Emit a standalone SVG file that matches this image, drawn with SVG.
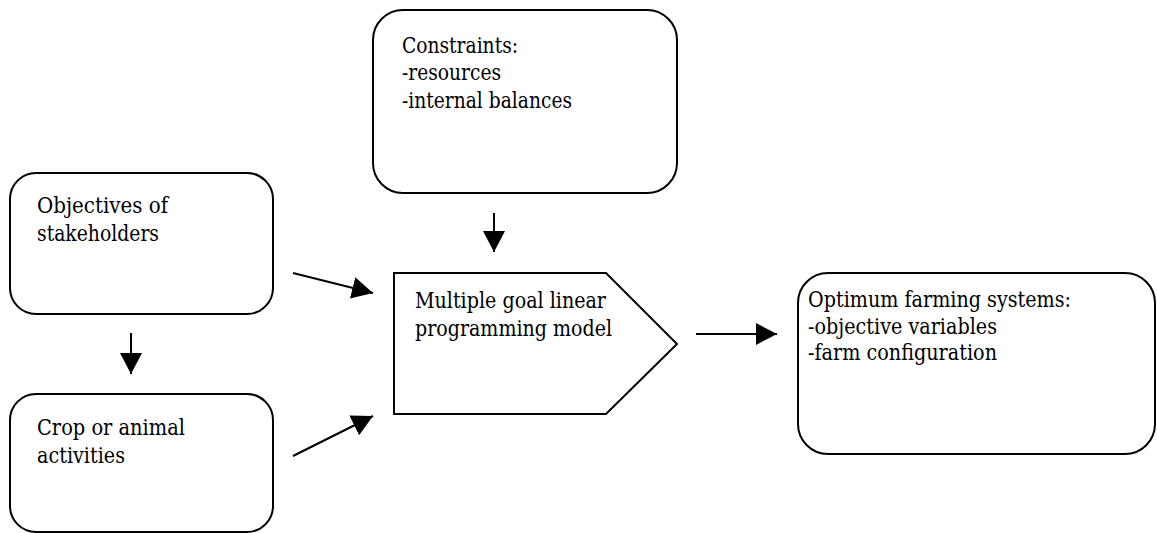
<svg xmlns="http://www.w3.org/2000/svg" width="1157" height="533" viewBox="0 0 1157 533">
<style>
.box{fill:#fff;stroke:#000;stroke-width:2}
.c{stroke:#000;stroke-width:2;fill:none}
.t{font-family:'DejaVu Serif',serif;font-size:22px;fill:#000}
</style>
<defs>
<marker id="ah" markerUnits="userSpaceOnUse" markerWidth="22" markerHeight="22" refX="21" refY="11" orient="auto" viewBox="0 0 22 22">
<path d="M0,0 L21,11 L0,22 Z" fill="#000"/>
</marker>
</defs>
<rect width="1157" height="533" fill="#fff"/>
<g id="constraints">
<rect class="box" x="373" y="10" width="304" height="183" rx="30" ry="30"/>
<text class="t" x="402" y="53" textLength="116" lengthAdjust="spacingAndGlyphs">Constraints:</text>
<text class="t" x="402" y="80" textLength="99" lengthAdjust="spacingAndGlyphs">-resources</text>
<text class="t" x="402" y="108" textLength="170" lengthAdjust="spacingAndGlyphs">-internal balances</text>
</g>
<g id="objectives">
<rect class="box" x="10" y="173" width="263" height="141" rx="26" ry="26"/>
<text class="t" x="37" y="213" textLength="131" lengthAdjust="spacingAndGlyphs">Objectives of</text>
<text class="t" x="37" y="241" textLength="122" lengthAdjust="spacingAndGlyphs">stakeholders</text>
</g>
<g id="crop">
<rect class="box" x="10" y="394" width="263" height="138" rx="26" ry="26"/>
<text class="t" x="37" y="435" textLength="148" lengthAdjust="spacingAndGlyphs">Crop or animal</text>
<text class="t" x="37" y="463" textLength="88" lengthAdjust="spacingAndGlyphs">activities</text>
</g>
<g id="mglp">
<path class="box" d="M394,273 L606,273 L677,344 L606,414 L394,414 Z"/>
<text class="t" x="415" y="308" textLength="191" lengthAdjust="spacingAndGlyphs">Multiple goal linear</text>
<text class="t" x="415" y="336" textLength="197" lengthAdjust="spacingAndGlyphs">programming model</text>
</g>
<g id="optimum">
<rect class="box" x="798" y="273" width="357" height="181" rx="30" ry="30"/>
<text class="t" x="808" y="307" textLength="263" lengthAdjust="spacingAndGlyphs">Optimum farming systems:</text>
<text class="t" x="808" y="334" textLength="189" lengthAdjust="spacingAndGlyphs">-objective variables</text>
<text class="t" x="808" y="360" textLength="189" lengthAdjust="spacingAndGlyphs">-farm configuration</text>
</g>
<g id="connectors">
<line class="c" x1="494" y1="213" x2="494" y2="252" marker-end="url(#ah)"/>
<line class="c" x1="131" y1="333" x2="131" y2="374" marker-end="url(#ah)"/>
<line class="c" x1="293" y1="273" x2="373" y2="293" marker-end="url(#ah)"/>
<line class="c" x1="293" y1="456" x2="373" y2="416" marker-end="url(#ah)"/>
<line class="c" x1="696" y1="334" x2="777" y2="334" marker-end="url(#ah)"/>
</g>
</svg>
